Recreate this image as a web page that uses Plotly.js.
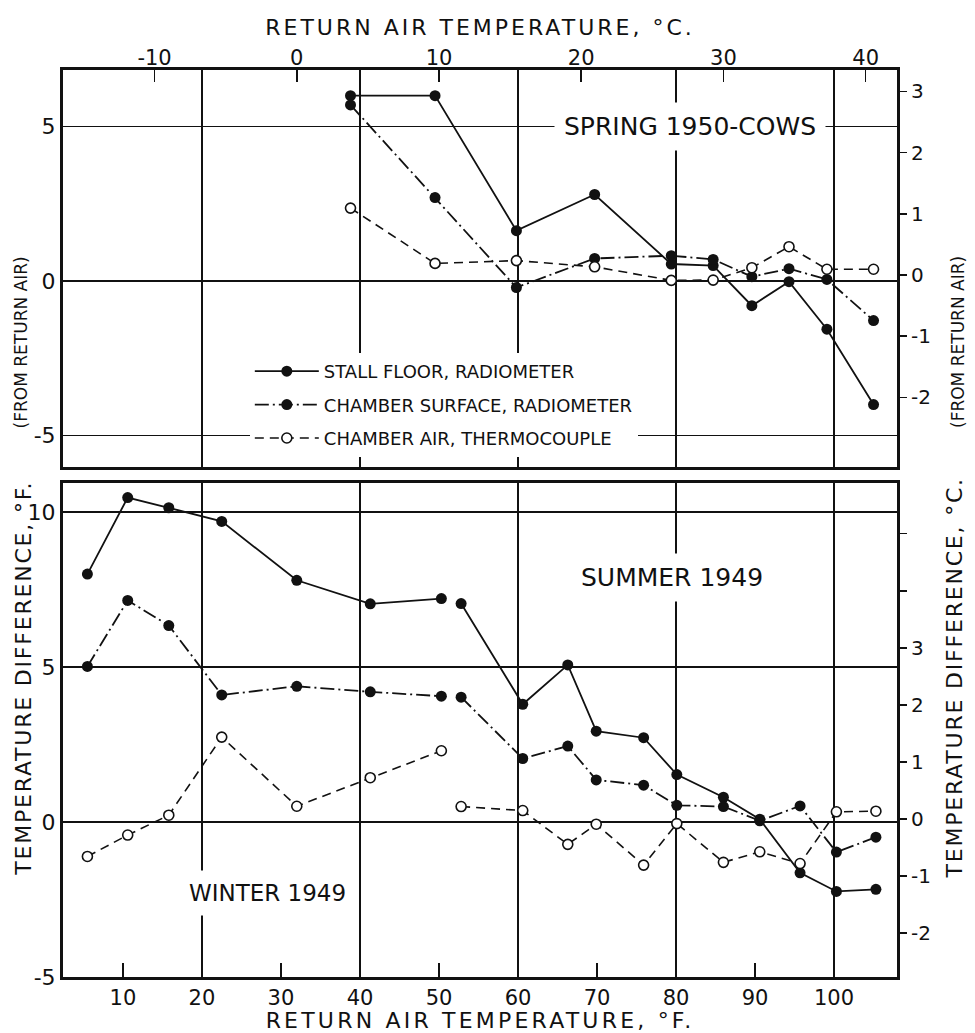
<!DOCTYPE html>
<html>
<head>
<meta charset="utf-8">
<script src="https://cdn.plot.ly/plotly-3.0.1.min.js"></script>
<style>
html,body{margin:0;padding:0;background:#fff;}
#chart{width:975px;height:1033px;}
#chart .xtitle{letter-spacing:3.2px;}
#chart .x4title{letter-spacing:3px;}
#chart .annotation[data-index="3"] text,
#chart .annotation[data-index="5"] text{letter-spacing:1.8px;}
</style>
</head>
<body>
<div id="chart"></div>
<script>
// ---- Data (°F return air temperature, °F temperature difference from return air) ----
const springX       = [38.8, 49.5, 59.8, 69.7, 79.4, 84.7, 89.6, 94.3, 99.1, 105.0];
const springStall   = [6.0, 6.0, 1.63, 2.8, 0.55, 0.5, -0.8, -0.02, -1.56, -4.0];
const springSurface = [5.7, 2.7, -0.21, 0.73, 0.82, 0.7, 0.14, 0.40, 0.05, -1.28];
const springAir     = [2.36, 0.57, 0.66, 0.46, 0.02, 0.03, 0.43, 1.11, 0.38, 0.38];

const winterX       = [5.5, 10.6, 15.8, 22.5, 32.0, 41.3, 50.3];
const winterStall   = [8.0, 10.47, 10.14, 9.7, 7.8, 7.04, 7.21];
const winterSurface = [5.02, 7.15, 6.34, 4.1, 4.38, 4.2, 4.06];
const winterAir     = [-1.11, -0.42, 0.22, 2.74, 0.51, 1.43, 2.3];

const summerX       = [52.8, 60.6, 66.3, 69.9, 75.9, 80.1, 86.0, 90.6, 95.7, 100.3, 105.3];
const summerStall   = [7.05, 3.8, 5.07, 2.93, 2.72, 1.53, 0.8, 0.09, -1.64, -2.24, -2.17];
const summerSurface = [4.03, 2.05, 2.45, 1.36, 1.19, 0.54, 0.5, 0.04, 0.52, -0.97, -0.49];
const summerAir     = [0.5, 0.37, -0.72, -0.07, -1.39, -0.05, -1.3, -0.96, -1.34, 0.33, 0.35];

const seriesNames = ["STALL FLOOR, RADIOMETER", "CHAMBER SURFACE, RADIOMETER", "CHAMBER AIR, THERMOCOUPLE"];

const fTicks  = [10, 20, 30, 40, 50, 60, 70, 80, 90, 100];
const fGrid   = [20, 40, 60, 80, 100];
const cTopTicks = [-10, 0, 10, 20, 30, 40];
const upperFTicks = [-5, 0, 5];
const lowerFTicks = [-5, 0, 5, 10];
const upperCTicks = [-2, -1, 0, 1, 2, 3];
const lowerCTicks = [-2, -1, 0, 1, 2, 3, 4, 5];
const lowerCLabels = ["-2", "-1", "0", "1", "2", "3", "", ""];

// ---- Styling ----
const FONT = "DejaVu Sans";
const INK = "#111";
const styles = [
  {line: {color: INK, width: 1.8, dash: "solid"}, marker: {symbol: "circle", size: 11, color: INK}},
  {line: {color: INK, width: 1.8, dash: "14px,4px,2px,4px"}, marker: {symbol: "circle", size: 11, color: INK}},
  {line: {color: INK, width: 1.6, dash: "9px,6px"}, marker: {symbol: "circle", size: 10, color: "#fff", line: {color: INK, width: 1.6}}}
];

function tr(x, y, i, xa, ya, legend) {
  return {
    type: "scatter", mode: "lines+markers", x: x, y: y,
    xaxis: xa, yaxis: ya, name: seriesNames[i], showlegend: legend,
    legendgroup: "g" + i, line: styles[i].line, marker: styles[i].marker,
    hoverinfo: "x+y"
  };
}
function axisHolder(xa, ya) {
  return {type: "scatter", mode: "markers", x: [], y: [], xaxis: xa, yaxis: ya, showlegend: false, hoverinfo: "skip"};
}

const data = [
  tr(springX, springStall, 0, "x2", "y2", true),
  tr(springX, springSurface, 1, "x2", "y2", true),
  tr(springX, springAir, 2, "x2", "y2", true),
  tr(winterX, winterStall, 0, "x", "y", false),
  tr(winterX, winterSurface, 1, "x", "y", false),
  tr(winterX, winterAir, 2, "x", "y", false),
  tr(summerX, summerStall, 0, "x", "y", false),
  tr(summerX, summerSurface, 1, "x", "y", false),
  tr(summerX, summerAir, 2, "x", "y", false),
  axisHolder("x3", "y3"),
  axisHolder("x4", "y4")
];

const fRange = [2.41, 107.97];
const cRange = fRange.map(f => (f - 32) / 1.8);
const hy = v => String(v);

const lowerDom = [0, 0.5447];
const upperDom = [0.5623, 1];

const layout = {
  width: 975, height: 1033,
  margin: {l: 63, r: 78, t: 70, b: 56},
  paper_bgcolor: "#fff", plot_bgcolor: "#fff",
  font: {family: FONT, color: INK, size: 20},
  showlegend: true,
  legend: {
    x: 0.224, y: 0.688, xanchor: "left", yanchor: "top",
    bgcolor: "#fff", borderwidth: 0, font: {size: 18, family: FONT, color: INK},
    itemwidth: 64, tracegroupgap: 7, traceorder: "grouped"
  },
  // lower panel
  xaxis: {
    domain: [0, 1], anchor: "y", range: fRange, tickvals: fTicks, ticktext: fTicks.map(String),
    ticks: "inside", ticklen: 14, tickwidth: 1.5, tickcolor: INK,
    showgrid: false, zeroline: false, showline: true, linewidth: 3, linecolor: INK, mirror: true,
    tickfont: {size: 21},
    title: {text: "RETURN AIR TEMPERATURE, °F.", font: {size: 22}, standoff: 4}
  },
  xaxis3: {
    overlaying: "x", anchor: "y", range: fRange, tickvals: fGrid, showticklabels: false, ticks: "",
    showgrid: true, gridcolor: INK, gridwidth: 1.5, zeroline: false, showline: false
  },
  yaxis: {
    domain: lowerDom, anchor: "x", range: [-5, 10.94], tickvals: lowerFTicks, ticktext: lowerFTicks.map(hy),
    ticks: "", showgrid: true, gridcolor: INK, gridwidth: 1.5, zeroline: false,
    showline: true, linewidth: 3, linecolor: INK, mirror: true, tickfont: {size: 22}
  },
  yaxis3: {
    overlaying: "y", side: "right", anchor: "x", range: [-2.77, 5.89], tickvals: lowerCTicks, ticktext: lowerCLabels,
    ticks: "outside", ticklen: 9, tickwidth: 1.5, tickcolor: INK, showgrid: false, zeroline: false, showline: false,
    tickfont: {size: 20}
  },
  // upper panel
  xaxis2: {
    domain: [0, 1], anchor: "y2", range: fRange, tickvals: fGrid, showticklabels: false, ticks: "",
    showgrid: true, gridcolor: INK, gridwidth: 1.5, zeroline: false,
    showline: true, linewidth: 3, linecolor: INK, mirror: true
  },
  xaxis4: {
    overlaying: "x2", anchor: "y2", side: "top", range: cRange, tickvals: cTopTicks, ticktext: cTopTicks.map(hy),
    ticks: "inside", ticklen: 12, tickwidth: 1.5, tickcolor: INK, showgrid: false, zeroline: false, showline: false,
    tickfont: {size: 21},
    title: {text: "RETURN AIR TEMPERATURE, °C.", font: {size: 22}, standoff: 4}
  },
  yaxis2: {
    domain: upperDom, anchor: "x2", range: [-6.02, 6.83], tickvals: upperFTicks, ticktext: upperFTicks.map(hy),
    ticks: "", showgrid: true, gridcolor: INK, gridwidth: 1.5, zeroline: false,
    showline: true, linewidth: 3, linecolor: INK, mirror: true, tickfont: {size: 22}
  },
  yaxis4: {
    overlaying: "y2", side: "right", anchor: "x2", range: [-3.14, 3.35], tickvals: upperCTicks, ticktext: upperCTicks.map(hy),
    ticks: "outside", ticklen: 9, tickwidth: 1.5, tickcolor: INK, showgrid: false, zeroline: false, showline: false,
    tickfont: {size: 20}
  },
  annotations: [
    {text: "SPRING 1950-COWS", xref: "x2", yref: "y2", x: 81.8, y: 5, showarrow: false,
     font: {size: 25}, bgcolor: "#fff", borderpad: 9},
    {text: "SUMMER 1949", xref: "x", yref: "y", x: 79.5, y: 7.9, showarrow: false,
     font: {size: 25}, bgcolor: "#fff", borderpad: 9},
    {text: "WINTER 1949", xref: "x", yref: "y", x: 28.3, y: -2.3, showarrow: false,
     font: {size: 23}, bgcolor: "#fff", borderpad: 9},
    {text: "TEMPERATURE DIFFERENCE, °F.", xref: "paper", yref: "paper", x: -0.047, y: 0.33, textangle: -90,
     xanchor: "center", yanchor: "middle", showarrow: false, font: {size: 22}},
    {text: "(FROM RETURN AIR)", xref: "paper", yref: "paper", x: -0.05, y: 0.70, textangle: -90,
     xanchor: "center", yanchor: "middle", showarrow: false, font: {size: 17}},
    {text: "TEMPERATURE DIFFERENCE, °C.", xref: "paper", yref: "paper", x: 1.069, y: 0.33, textangle: -90,
     xanchor: "center", yanchor: "middle", showarrow: false, font: {size: 22}},
    {text: "(FROM RETURN AIR)", xref: "paper", yref: "paper", x: 1.073, y: 0.70, textangle: -90,
     xanchor: "center", yanchor: "middle", showarrow: false, font: {size: 17}}
  ]
};

Plotly.newPlot("chart", data, layout, {displayModeBar: false, staticPlot: true});
</script>
</body>
</html>
